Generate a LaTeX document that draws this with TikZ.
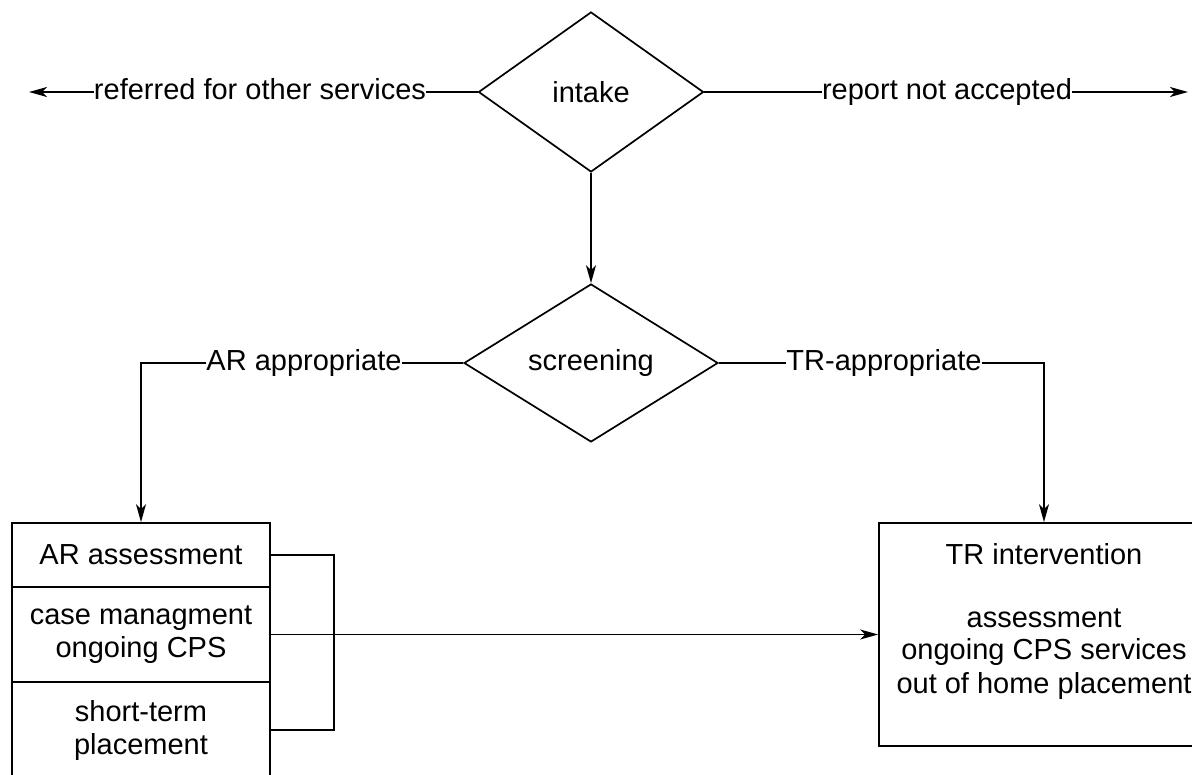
\documentclass[tikz,border=0pt]{standalone}
\usepackage{fontspec}
\setmainfont{Liberation Sans}
\usetikzlibrary{shapes.geometric,arrows.meta}
\begin{document}
\begin{tikzpicture}[x=1pt,y=-1pt, line width=1.7pt,
  every node/.style={font=\fontsize{29}{33}\selectfont},
  dec/.style={draw, shape=diamond, inner sep=0pt},
  lbl/.style={inner sep=0pt, outer sep=0pt, text height=21pt, text depth=6pt},
  box/.style={draw, rectangle, inner sep=0pt, align=center},
  arr/.style={-{Stealth[length=18pt,width=10pt,inset=5pt]}}]
\useasboundingbox (0,0) rectangle (1192,775);
\clip (0,0) rectangle (1192,775);

% decisions
\node[dec, minimum width=225pt, minimum height=160pt] (intake) at (591,92) {intake};
\node[dec, minimum width=254pt, minimum height=158pt] (screen) at (591,363) {screening};

% top branch
\coordinate (lend) at (29,92);
\coordinate (rend) at (1188,92);
\node[lbl] (ref) at (260,92) {referred for other services};
\node[lbl] (rna) at (947,92) {report not accepted};
\draw (intake.west) -- (ref.east);
\draw[arr] (ref.west) -- (lend);
\draw (intake.east) -- (rna.west);
\draw[arr] (rna.east) -- (rend);

\draw[arr] (intake.south) -- (screen.north);

% left boxes
\node[box, minimum width=258pt, minimum height=64pt] (ar1) at (141,555) {AR assessment};
\node[box, minimum width=258pt, minimum height=95pt] (ar2) at (141,634.5) {case managment\\ongoing CPS};
\node[box, minimum width=258pt, minimum height=96pt] (ar3) at (141,730) {short-term\\placement};

% right box
\node[box, minimum width=330pt, minimum height=223pt] (tr) at (1044,634.5) {};
\node[align=center, inner sep=0pt] (trtext) at (1044,621) {TR intervention\\[30pt]assessment\\ongoing CPS services\\out of home placement};

% screening branches
\node[lbl] (arapp) at (304,363) {AR appropriate};
\node[lbl] (trapp) at (884,363) {TR-appropriate};
\draw (screen.west) -- (arapp.east);
\draw[arr] (arapp.west) -| (ar1.north);
\draw (screen.east) -- (trapp.west);
\draw[arr] (trapp.east) -| (tr.north);

% bracket and link
\draw (ar1.east) -- ++(63,0) |- (ar3.east);
\draw[arr] (ar2.east) -- (tr.west);
\end{tikzpicture}
\end{document}
